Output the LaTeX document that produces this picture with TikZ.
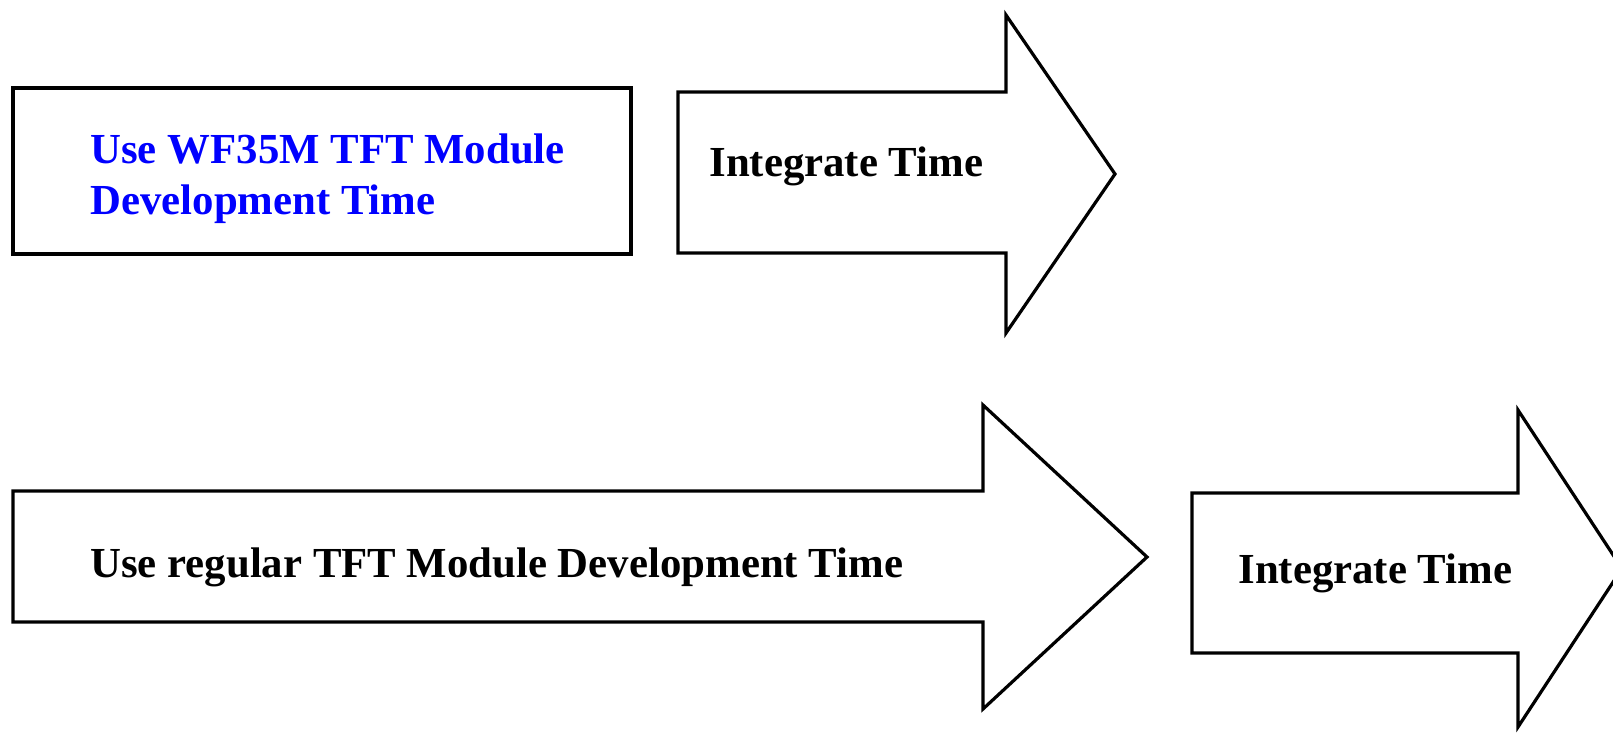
\documentclass[tikz,border=0pt]{standalone}
\usepackage{fontspec}
\setmainfont{Liberation Serif}
\definecolor{pureblue}{RGB}{0,0,255}
\tikzset{
  outline/.style={draw=black, line width=1.6pt, line join=miter, fill=white},
  boxline/.style={draw=black, line width=1.7pt, fill=white},
  lbl/.style={anchor=base west, inner sep=0pt, font=\fontsize{21.4}{25.5}\selectfont\bfseries, align=left},
}
\begin{document}
\begin{tikzpicture}[x=0.5pt, y=-0.5pt]
\useasboundingbox (0,0) rectangle (1613,736);
\clip (0,0) rectangle (1613,736);
% top box
\draw[boxline] (13,88) rectangle (631,254);
% top arrow
\draw[outline] (678,92) -- (1006,92) -- (1006,15) -- (1115,174) -- (1006,333) -- (1006,253) -- (678,253) -- cycle;
% bottom long arrow
\draw[outline] (13,491) -- (983,491) -- (983,405) -- (1147,557) -- (983,709) -- (983,622) -- (13,622) -- cycle;
% bottom right arrow
\draw[outline] (1192,493) -- (1518,493) -- (1518,410) -- (1622,568.5) -- (1518,727) -- (1518,653) -- (1192,653) -- cycle;
% labels
\node[lbl, text=pureblue] (wf1) at (90,163) {Use WF35M TFT Module};
\node[lbl, text=pureblue] (wf2) at (90,214) {Development Time};
\node[lbl] (int1) at (709,176) {Integrate Time};
\node[lbl] (reg) at (90,577) {Use regular TFT Module Development Time};
\node[lbl] (int2) at (1238,583) {Integrate Time};
\end{tikzpicture}
\end{document}
